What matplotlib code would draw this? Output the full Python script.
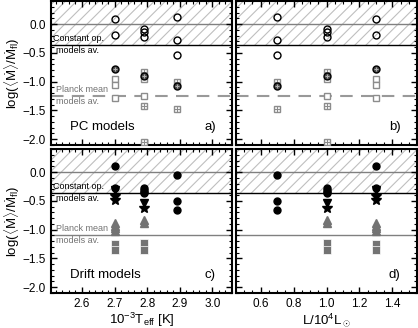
import numpy as np
import matplotlib
matplotlib.use("Agg")
import matplotlib.pyplot as plt
from matplotlib.ticker import MultipleLocator

plt.rcParams['font.family'] = ['Liberation Sans', 'DejaVu Sans']
plt.rcParams['mathtext.fontset'] = 'custom'
plt.rcParams['mathtext.rm'] = 'Liberation Sans'
plt.rcParams['mathtext.it'] = 'Liberation Sans'
plt.rcParams['hatch.linewidth'] = 0.8
plt.rcParams['hatch.color'] = '0.75'

# ── model parameters (three models) ──────────────────────────────────────────
teff = [2.70, 2.79, 2.89]          # 10^-3 Teff [K]
lum = [1.3, 1.0, 0.7]              # L / 10^4 Lsun

# ── PC models: log(<Mdot>/Mdot_fl) per model ─────────────────────────────────
pc_open_circ = [[0.08, -0.19], [-0.09, -0.14, -0.22], [0.12, -0.28, -0.54]]
pc_plus_circ = [[-0.78], [-0.90], [-1.07]]
pc_open_sq = [[-0.96, -1.06, -1.29], [-0.96, -1.25], []]
pc_plus_sq = [[], [-0.83, -1.43, -2.05], [-1.00, -1.48]]

# ── Drift models ─────────────────────────────────────────────────────────────
dr_circ = [[0.10, -0.27], [-0.28, -0.31, -0.34, -0.37], [-0.06, -0.51, -0.66]]
dr_dtri = [[-0.32], [-0.54], []]
dr_star = [[-0.41, -0.48], [-0.63], []]
dr_utri = [[-0.89, -0.94, -0.98, -1.03], [-0.83, -0.88], []]
dr_sq = [[-1.25, -1.36], [-1.23, -1.35], []]

const_av = -0.37
planck_av_pc = -1.25
planck_av_drift = -1.10

W, H = 418, 328
fig = plt.figure(figsize=(W / 100, H / 100), dpi=100)

def box(x0, y0, x1, y1):
    return [x0 / W, 1 - y1 / H, (x1 - x0) / W, (y1 - y0) / H]

ax_a = fig.add_axes(box(51, 1, 232, 145))
ax_b = fig.add_axes(box(236, 1, 417, 145))
ax_c = fig.add_axes(box(51, 149, 232, 293))
ax_d = fig.add_axes(box(236, 149, 417, 293))


def pts(xs, groups):
    x, y = [], []
    for xi, g in zip(xs, groups):
        x += [xi] * len(g)
        y += g
    return x, y


def base(ax, xlim, xmaj, xmin, planck, dashed):
    ax.set_xlim(*xlim)
    ax.set_ylim(-2.1, 0.4)
    ax.axhspan(const_av, 0.4, facecolor='none', hatch='///', linewidth=0, zorder=0)
    ax.axhline(0.0, color='0.5', lw=1.0, zorder=1)
    ax.axhline(const_av, color='k', lw=1.0, zorder=1)
    if dashed:
        ax.axhline(planck, color='0.6', lw=1.5, dashes=(6, 4), zorder=1)
    else:
        ax.axhline(planck, color='0.5', lw=1.0, zorder=1)
    ax.xaxis.set_major_locator(MultipleLocator(xmaj))
    ax.xaxis.set_minor_locator(MultipleLocator(xmin))
    ax.yaxis.set_major_locator(MultipleLocator(0.5))
    ax.yaxis.set_minor_locator(MultipleLocator(0.1))
    ax.tick_params(which='both', direction='in', top=True, right=True, labelsize=8.5)
    ax.tick_params(which='major', length=4, width=1)
    ax.tick_params(which='minor', length=2, width=0.8)
    for s in ax.spines.values():
        s.set_linewidth(1.5)


def draw_pc(ax, xs):
    x, y = pts(xs, pc_open_circ)
    ax.plot(x, y, 'o', ms=5, mfc='none', mec='k', mew=1.0, zorder=3)
    x, y = pts(xs, pc_open_sq)
    ax.plot(x, y, 's', ms=5, mfc='white', mec='0.55', mew=1.0, zorder=3)
    x, y = pts(xs, pc_plus_sq)
    ax.plot(x, y, 's', ms=5, mfc='white', mec='0.55', mew=1.0, zorder=3)
    ax.plot(x, y, '+', ms=4, mec='0.55', mew=0.8, zorder=4)
    x, y = pts(xs, pc_plus_circ)
    ax.plot(x, y, 'o', ms=5, mfc='0.3', mec='k', mew=1.0, zorder=5)
    ax.plot(x, y, '+', ms=3.5, mec='0.7', mew=0.7, zorder=6)


def draw_drift(ax, xs):
    x, y = pts(xs, dr_sq)
    ax.plot(x, y, 's', ms=5.5, mfc='0.45', mec='white', mew=0.5, zorder=3)
    x, y = pts(xs, dr_utri)
    ax.plot(x, y, '^', ms=6, mfc='0.45', mec='0.45', zorder=3)
    x, y = pts(xs, dr_star)
    ax.plot(x, y, '*', ms=7, mfc='k', mec='k', zorder=4)
    x, y = pts(xs, dr_dtri)
    ax.plot(x, y, 'v', ms=5.5, mfc='k', mec='k', zorder=4)
    x, y = pts(xs, dr_circ)
    ax.plot(x, y, 'o', ms=5, mfc='k', mec='k', zorder=5)


teff_lim = (2.505, 3.06)
lum_lim = (0.45, 1.55)

base(ax_a, teff_lim, 0.1, 0.02, planck_av_pc, True)
base(ax_b, lum_lim, 0.2, 0.05, planck_av_pc, True)
base(ax_c, teff_lim, 0.1, 0.02, planck_av_drift, False)
base(ax_d, lum_lim, 0.2, 0.05, planck_av_drift, False)

draw_pc(ax_a, teff)
draw_pc(ax_b, lum)
draw_drift(ax_c, teff)
draw_drift(ax_d, lum)

# labels in left panels
for ax, planck in [(ax_a, planck_av_pc), (ax_c, planck_av_drift)]:
    tr = ax.get_yaxis_transform()
    ax.text(0.01, const_av + 0.04, 'Constant op.', transform=tr,
            fontsize=6.5, va='bottom', ha='left', color='k')
    ax.text(0.03, const_av - 0.01, 'models av.', transform=tr,
            fontsize=6.5, va='top', ha='left', color='k')
    ax.text(0.03, planck + 0.04, 'Planck mean', transform=tr,
            fontsize=6.5, va='bottom', ha='left', color='0.45')
    ax.text(0.03, planck - 0.01, 'models av.', transform=tr,
            fontsize=6.5, va='top', ha='left', color='0.45')

ax_a.text(0.105, 0.125, 'PC models', transform=ax_a.transAxes, fontsize=9.5, va='center')
ax_c.text(0.105, 0.125, 'Drift models', transform=ax_c.transAxes, fontsize=9.5, va='center')
for ax, lab in [(ax_a, 'a)'), (ax_b, 'b)'), (ax_c, 'c)'), (ax_d, 'd)')]:
    ax.text(0.91, 0.125, lab, transform=ax.transAxes, fontsize=9.5, va='center', ha='right')

ax_a.tick_params(labelbottom=False)
ax_b.tick_params(labelbottom=False, labelleft=False)
ax_d.tick_params(labelleft=False)

ylab = r'log($\langle\dot{\rm M}\rangle/\dot{\rm M}_{\rm fl}$)'
for ax in (ax_a, ax_c):
    ax.set_ylabel(ylab, fontsize=9.5)
    ax.yaxis.set_label_coords(-0.16, 0.5)
ax_c.set_xlabel(r'10$^{-3}$T$_{\rm eff}$ [K]', fontsize=9.5, labelpad=1)
ax_d.set_xlabel(r'L/10$^4$L$_\odot$', fontsize=9.5, labelpad=1)

fig.savefig('out.png', dpi=100)
